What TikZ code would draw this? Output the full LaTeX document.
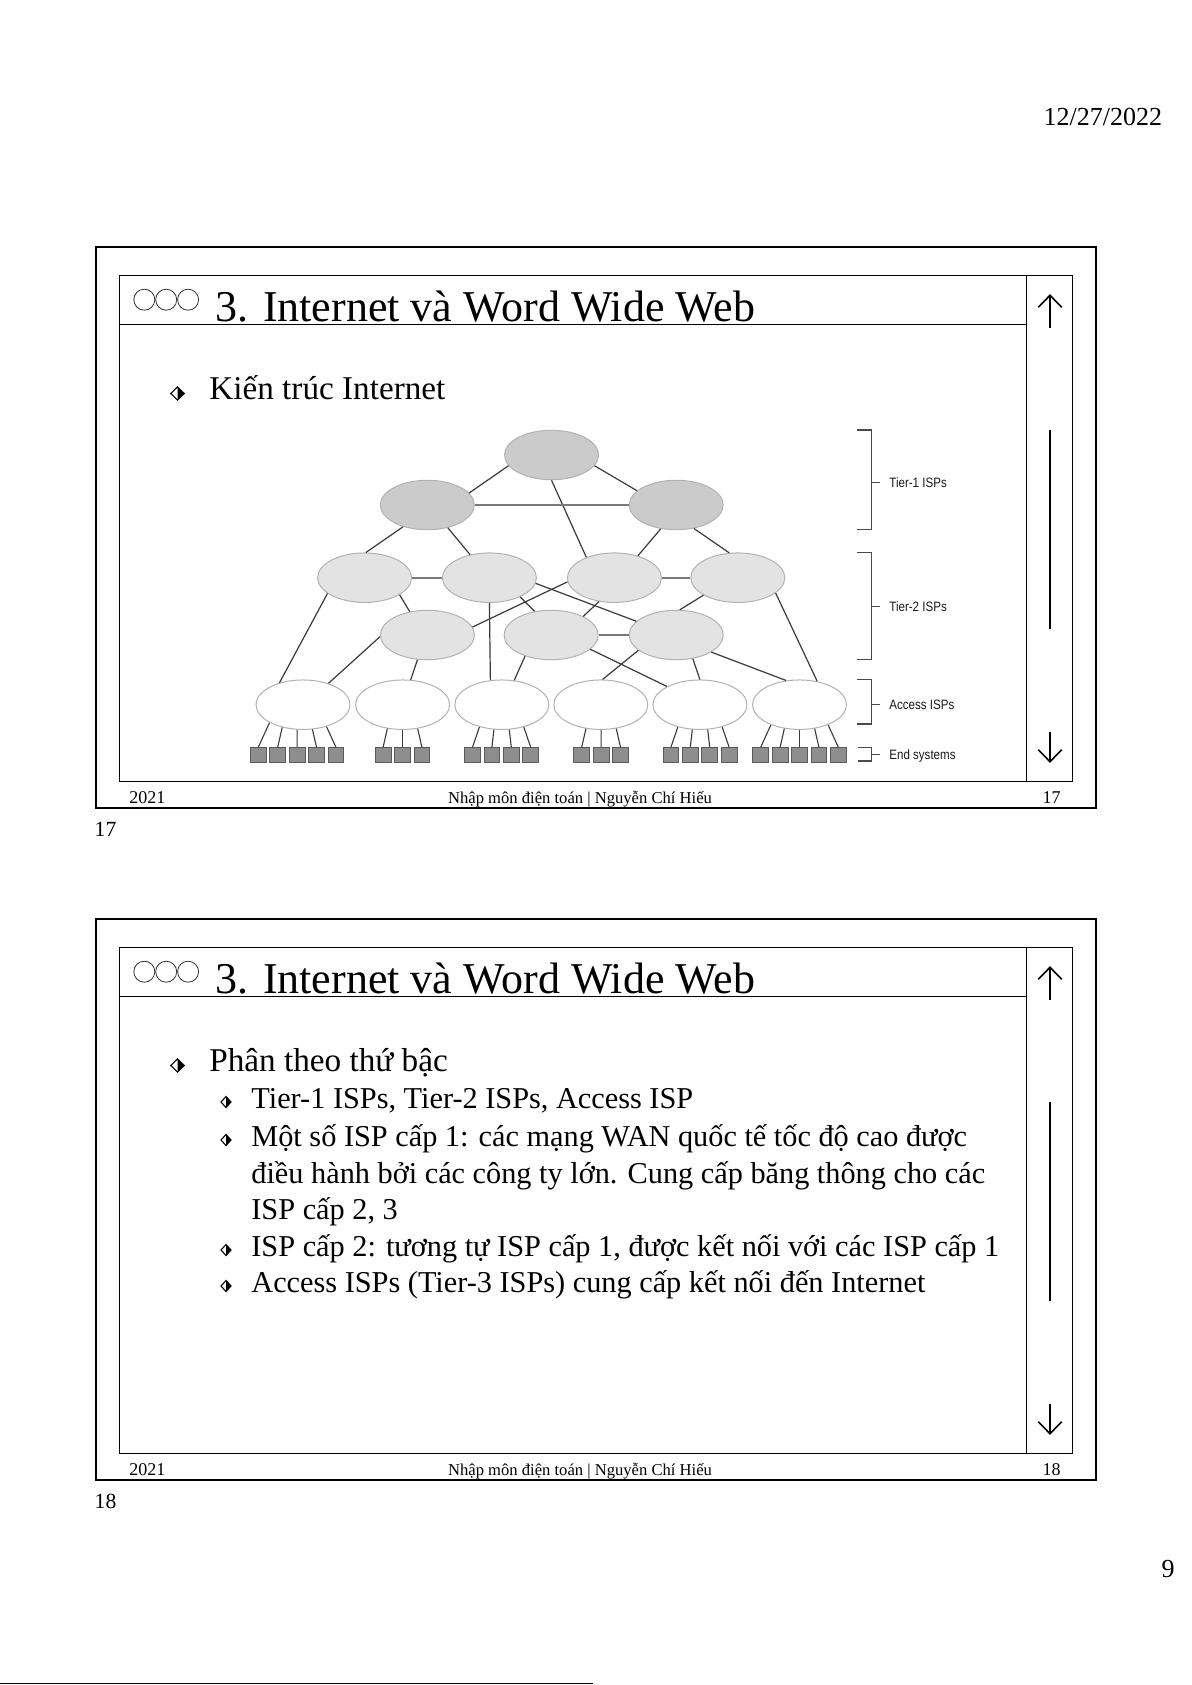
\documentclass[tikz,border=0pt]{standalone}
\usepackage{fontspec}
\setmainfont{Liberation Serif}
\newfontfamily\labelfont[FakeStretch=0.85]{Liberation Sans}
\usetikzlibrary{shapes.geometric,calc}

\definecolor{tierone}{HTML}{CBCBCB}
\definecolor{tiertwo}{HTML}{E3E3E3}
\definecolor{isprim}{HTML}{B2B2B2}
\definecolor{linkc}{HTML}{3A3A3A}
\definecolor{peerc}{HTML}{7A7A7A}
\definecolor{endfill}{HTML}{8E8E8E}
\definecolor{endrim}{HTML}{5A5A5A}
\definecolor{bracketc}{HTML}{4A4A4A}

\newcommand\hdiamond[4]{%
  \fill[black] (#1,{#2-#4/2}) -- ({#1+#3/2},#2) -- (#1,{#2+#4/2}) -- cycle;
  \draw[black,line width=0.55pt] ({#1-#3/2},#2) -- (#1,{#2-#4/2}) -- ({#1+#3/2},#2) -- (#1,{#2+#4/2}) -- cycle;}

\newcommand\SlideFrame[2]{%
  \draw[outerframe] (95.7,246.7) rectangle (1095.7,808.3);
  \draw[innerframe] (119.3,275.3) rectangle (1072.7,781.3);
  \draw[innerframe] (119.3,324.3) -- (1026.3,324.3);
  \draw[innerframe] (1026.3,275.3) -- (1026.3,781.3);
  \foreach \cx in {144.3,166.2,188.1} \draw[dotring] (\cx,299.7) circle (5.25pt);
  \node[titletext] (title#1) at (215,321) {3. Internet và Word Wide Web};
  \draw[navline] (1050,327.7) -- (1050,296);
  \draw[navline] (1038.3,307.3) -- (1050,295.3) -- (1061.7,307.3);
  \draw[scrollbar] (1050,430) -- (1050,629);
  \draw[navline] (1050,731.7) -- (1050,761);
  \draw[navline] (1038.3,749.7) -- (1050,761.7) -- (1061.7,749.7);
  \node[foot,anchor=base west] (year#1) at (129,803.3) {2021};
  \node[foot,anchor=base,font=\fontsize{8.3}{10}\selectfont] (course#1) at (580,803.3) {Nhập môn điện toán | Nguyễn Chí Hiếu};
  \node[foot,anchor=base east] (num#1) at (1061,803.3) {#2};
  \node[pagetext,anchor=base west,font=\fontsize{10.8}{13}\selectfont] (pnum#1) at (94.3,836.7) {#2};
}

\begin{document}
\begin{tikzpicture}[x=0.5pt,y=-0.5pt,
  outerframe/.style={draw=black,line width=1.1pt},
  innerframe/.style={draw=black,line width=0.6pt},
  dotring/.style={draw=black!80,line width=0.4pt},
  navline/.style={draw=black,line width=0.8pt},
  scrollbar/.style={draw=black,line width=1.1pt},
  titletext/.style={anchor=base west,inner sep=0pt,font=\fontsize{22}{26}\selectfont},
  lone/.style={anchor=base west,inner sep=0pt,font=\fontsize{16.6}{20}\selectfont},
  ltwo/.style={anchor=base west,inner sep=0pt,font=\fontsize{15.15}{18}\selectfont},
  foot/.style={inner sep=0pt,font=\fontsize{9}{11}\selectfont},
  pagetext/.style={inner sep=0pt,font=\fontsize{13}{15}\selectfont},
  isp/.style={ellipse,draw=isprim,line width=0.5pt,minimum width=47pt,minimum height=24.75pt,inner sep=0pt},
  tonebox/.style={isp,fill=tierone},
  ttwobox/.style={isp,fill=tiertwo},
  accbox/.style={isp,fill=white},
  host/.style={rectangle,draw=endrim,fill=endfill,line width=0.4pt,minimum width=7.9pt,minimum height=7.4pt,inner sep=0pt},
  link/.style={draw=linkc,line width=0.6pt},
  peer/.style={draw=peerc,line width=0.9pt},
  hostlink/.style={draw=linkc,line width=0.55pt},
  bracket/.style={draw=bracketc,line width=0.55pt},
  lbl/.style={anchor=base west,inner sep=0pt,text=black!90,font=\labelfont\fontsize{6.8}{8}\selectfont}
]
\useasboundingbox (0,0) rectangle (1191,1685);
\fill[white] (0,0) rectangle (1191,1685);

\node[pagetext,anchor=base east] (date) at (1162.5,125.7) {12/27/2022};
\node[pagetext,anchor=base east] (pageno) at (1175,1577) {9};
\coordinate (fnA) at (0,1683.5);
\coordinate (fnB) at (593,1683.5);
\draw[black,line width=0.6pt] (fnA) -- (fnB);

% ---------------- slide 17 ----------------
\SlideFrame{a}{17}
\hdiamond{177.5}{393.5}{13.5}{13}
\node[lone] (arch) at (209,399.3) {Kiến trúc Internet};

% end systems and their links
\foreach \g/\cx/\n in {1/297.1/5,2/402.5/3,3/501.6/4,4/601.1/3,5/700/4,6/799.5/5}{
  \coordinate (m\g) at (\cx,704.7);
  \foreach \i in {1,...,\n}{
    \node[host] (h\g x\i) at ({\cx+(\i-(\n+1)/2)*19.4},755) {};
    \draw[hostlink] (h\g x\i.north) -- ($(h\g x\i.center |- m\g)!0.5!(m\g)$);
  }
}

% access ISPs
\node[accbox] (a1) at (303,704.7) {};
\node[accbox] (a2) at (402.6,704.7) {};
\node[accbox] (a3) at (501.8,704.7) {};
\node[accbox] (a4) at (600.8,704.7) {};
\node[accbox] (a5) at (699.9,704.7) {};
\node[accbox] (a6) at (799.5,704.7) {};
% tier-2
\node[ttwobox] (A) at (364.6,577.7) {};
\node[ttwobox] (B) at (489.4,577.7) {};
\node[ttwobox] (C) at (614.4,577.7) {};
\node[ttwobox] (D) at (737.8,577.7) {};
\node[ttwobox] (E) at (427.4,635) {};
\node[ttwobox] (F) at (551.1,635) {};
\node[ttwobox] (G) at (676.2,635) {};
% tier-1
\node[tonebox] (T0) at (551.5,455) {};
\node[tonebox] (TL) at (427.3,505) {};
\node[tonebox] (TR) at (676.2,505) {};

\draw[link] (T0.194) -- (TL.16);
\draw[link] (T0.346) -- (TR.160);
\draw[link] (T0.270) -- (C.144);
\draw[peer] (TL.east) -- (TR.west);
\draw[link] (TL.222) -- (A.87);
\draw[link] (TL.312) -- (B.130);
\draw[link] (TR.237) -- (C.43);
\draw[link] (TR.307) -- (D.109);
\draw[peer] (A.east) -- (B.west);
\draw[peer] (C.east) -- (D.west);
\draw[link] (A.203) -- (a1.137);
\draw[link] (A.334) -- (E.127);
\draw[link] (B.south) -- (a3.115);
\draw[link] (B.353) -- (G.161);
\draw[link] (B.328) -- (F.125);
\draw[link] (C.185) -- (E.10);
\draw[link] (C.237) -- (F.30);
\draw[link] (D.207) -- (G.82);
\draw[link] (D.338) -- (a6.53);
\draw[link] (E.182) -- (a1.40);
\draw[link] (E.248) -- (a2.72);
\draw[peer] (F.east) -- (G.west);
\draw[link] (F.219) -- (a3.63);
\draw[link] (F.340) -- (a5.151);
\draw[link] (G.202) -- (a4.86);
\draw[link] (G.305) -- (a5.north);
\draw[link] (G.334) -- (a6.119);

% brackets and labels
\draw[bracket] (856.7,430) -- (871.7,430) -- (871.7,529.3) -- (856.7,529.3);
\draw[bracket] (871.7,482.7) -- (880,482.7);
\node[lbl] (l1) at (889,487.4) {Tier-1 ISPs};
\draw[bracket] (856.7,552.7) -- (871.7,552.7) -- (871.7,659.3) -- (856.7,659.3);
\draw[bracket] (871.7,606.7) -- (880,606.7);
\node[lbl] (l2) at (889,611.4) {Tier-2 ISPs};
\draw[bracket] (856.7,679.3) -- (871.7,679.3) -- (871.7,724) -- (856.7,724);
\draw[bracket] (871.7,704.5) -- (880,704.5);
\node[lbl] (l3) at (889,709.2) {Access ISPs};
\draw[bracket] (858,747.5) -- (871.7,747.5) -- (871.7,761) -- (858,761);
\draw[bracket] (871.7,754.5) -- (880,754.5);
\node[lbl] (l4) at (889,759.2) {End systems};

% ---------------- slide 18 ----------------
\begin{scope}[yshift=-336pt]
\SlideFrame{b}{18}
\hdiamond{177.5}{393.5}{13.5}{13}
\node[lone] (rank) at (209,399.5) {Phân theo thứ bậc};
\hdiamond{226}{430}{10}{11}
\node[ltwo] (s1) at (251,436.5) {Tier-1 ISPs, Tier-2 ISPs, Access ISP};
\hdiamond{226}{468}{10}{11}
\node[ltwo] (s2) at (251,474.2) {Một số ISP cấp 1: các mạng WAN quốc tế tốc độ cao được};
\node[ltwo] (s2b) at (251,511) {điều hành bởi các công ty lớn. Cung cấp băng thông cho các};
\node[ltwo] (s2c) at (251,547.8) {ISP cấp 2, 3};
\hdiamond{226}{578}{10}{11}
\node[ltwo] (s3) at (251,584.5) {ISP cấp 2: tương tự ISP cấp 1, được kết nối với các ISP cấp 1};
\hdiamond{226}{614}{10}{11}
\node[ltwo] (s4) at (251,620.5) {Access ISPs (Tier-3 ISPs) cung cấp kết nối đến Internet};
\end{scope}
\end{tikzpicture}
\end{document}
